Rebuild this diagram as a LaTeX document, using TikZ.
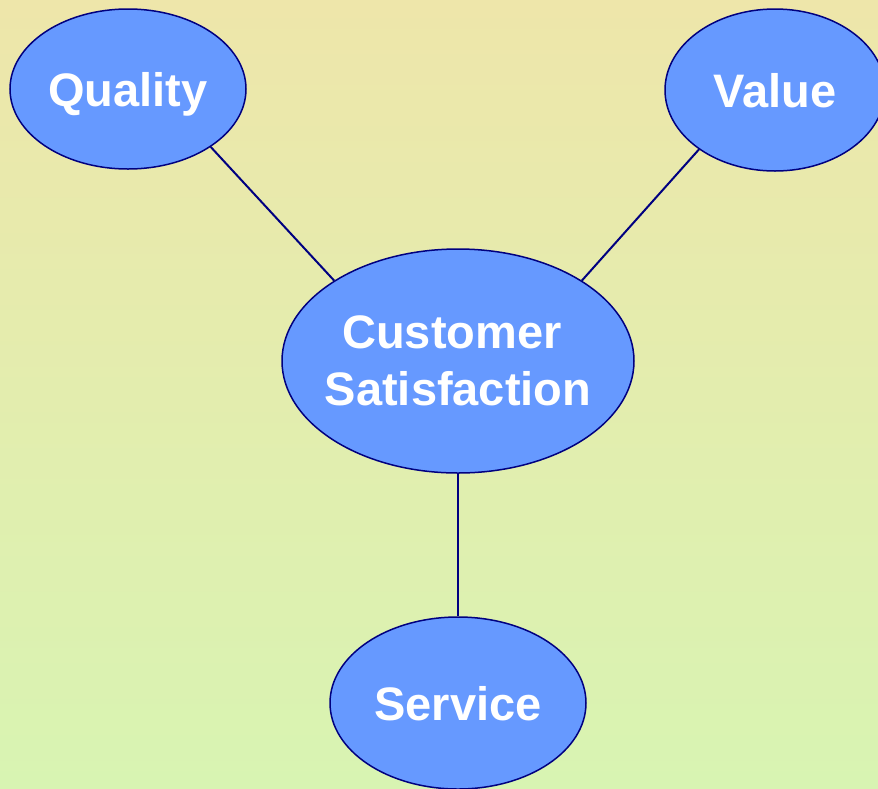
\documentclass[tikz,border=0pt]{standalone}
\usepackage{fontspec}
\setmainfont{Liberation Sans}
\usetikzlibrary{shapes.geometric}

\definecolor{bgtop}{RGB}{238,230,170}
\definecolor{bgbottom}{RGB}{216,244,178}
\definecolor{blobfill}{RGB}{102,153,255}
\definecolor{blobline}{RGB}{0,0,128}

\tikzset{
    blob/.style={ellipse, draw=blobline, line width=1.5pt, fill=blobfill,
        inner sep=0pt, text=white, align=center,
        font=\bfseries\fontsize{47}{57}\selectfont},
    oneline/.style={text height=34pt, text depth=0pt},
    link/.style={draw=blobline, line width=2pt}
}

\begin{document}
\begin{tikzpicture}[x=1pt,y=-1pt]
                \useasboundingbox (0,0) rectangle (878,788);
                \clip (0,0) rectangle (878,788);
                \shade[top color=bgtop, bottom color=bgbottom] (0,0) rectangle (878,788);

                \node[blob, oneline, minimum width=236pt, minimum height=160pt] (quality) at (128,89) {Quality};
                \node[blob, oneline, minimum width=220pt, minimum height=162pt] (value) at (775,90) {Value};
                \node[blob, inner xsep=-10pt, minimum width=352pt, minimum height=224pt] (cs) at (458,361) {Customer\hspace*{12pt}\\Satisfaction};
                \node[blob, oneline, minimum width=256pt, minimum height=172pt] (service) at (458,703) {Service};

                \draw[link] (quality.-35) -- (cs.147);
                \draw[link] (value.218) -- (cs.33);
                \draw[link] (cs.south) -- (service.north);
            \end{tikzpicture}
\end{document}
